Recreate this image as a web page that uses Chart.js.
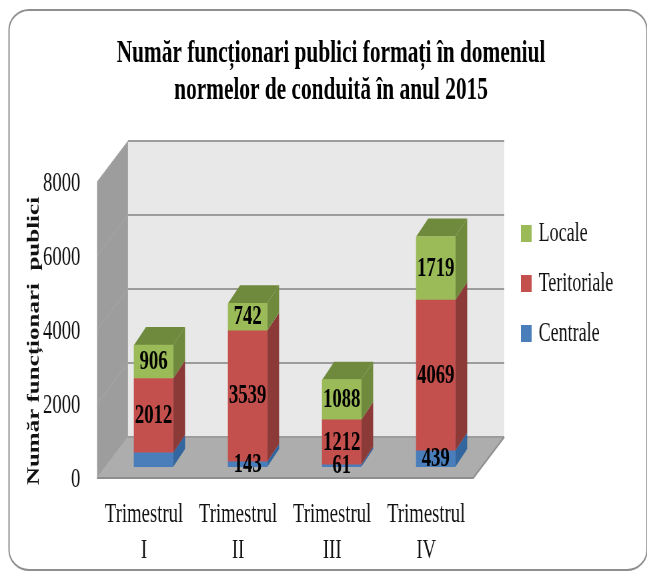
<!DOCTYPE html>
<html><head><meta charset="utf-8">
<style>
html,body{margin:0;padding:0;background:#fff;overflow:hidden}
canvas{display:block;width:647px!important;height:573px!important;filter:blur(.4px)}
</style>
<script src="https://cdn.jsdelivr.net/npm/chart.js@4"></script>
</head><body>
<canvas id="c" width="970" height="573"></canvas>
<script>
const categories=[['Trimestrul','I'],['Trimestrul','II'],['Trimestrul','III'],['Trimestrul','IV']];
const centrale=[380,143,61,439];
const teritoriale=[2012,3539,1212,4069];
const locale=[906,742,1088,1719];
const hiddenLabels=[[0,0]]; // the reference prints no label on this segment
const titleLines=['Număr funcționari publici formați în domeniul','normelor de conduită în anul 2015'];
const yTitle='Număr funcționari  publici';

const SX=970/647;
const WALL={dx:31*SX,dy:-41};
const BAR={dx:9.5*SX,dy:-11,depthX:12*SX,depthY:-18};
const serif='"Liberation Serif","Times New Roman",serif';
const sides=['#33659f','#8b3a38','#6f8a3c'];

function poly(ctx,pts,fill){ctx.beginPath();pts.forEach((p,i)=>i?ctx.lineTo(p[0],p[1]):ctx.moveTo(p[0],p[1]));ctx.closePath();ctx.fillStyle=fill;ctx.fill();}

const scene={
 id:'scene',
 afterLayout(chart){
  const t=chart.titleBlock;t.left=0;t.right=331*SX*2;
  const l=chart.legend;const w=l.width,h=l.height;
  l.left=761;l.right=l.left+w;l.top=197;l.bottom=l.top+h;
  const y=chart.scales.y;
  if(!y._wrapped){y._wrapped=true;const o=y.drawTitle.bind(y);
   y.drawTitle=function(){chart.ctx.save();chart.ctx.translate(0,11);o();chart.ctx.restore();};}
 },
 beforeDraw(chart){
  const {ctx,chartArea:a,scales:{y}}=chart;
  const b0=y.getPixelForValue(0),t0=y.getPixelForValue(8000);
  const d=WALL;
  ctx.save();
  // frame
  ctx.save();ctx.scale(SX,1);ctx.beginPath();ctx.roundRect(9,10,638,560,20);ctx.restore();
  ctx.strokeStyle='#8f8f8f';ctx.lineWidth=2;ctx.stroke();
  // walls
  poly(ctx,[[a.left+d.dx,b0+d.dy],[a.right+d.dx,b0+d.dy],[a.right+d.dx,t0+d.dy],[a.left+d.dx,t0+d.dy]],'#e8e8e8');
  poly(ctx,[[a.left,b0],[a.left+d.dx,b0+d.dy],[a.left+d.dx,t0+d.dy],[a.left,t0]],'#9d9d9d');
  poly(ctx,[[a.left,b0],[a.right,b0],[a.right+d.dx,b0+d.dy],[a.left+d.dx,b0+d.dy]],'#adadad');
  // gridlines
  y.ticks.forEach(tk=>{
   const p=y.getPixelForValue(tk.value);
   ctx.lineWidth=2;ctx.strokeStyle='#9c9c9c';
   ctx.beginPath();ctx.moveTo(a.left+d.dx,p+d.dy);ctx.lineTo(a.right+d.dx,p+d.dy);ctx.stroke();
   ctx.lineWidth=1;ctx.strokeStyle='#a9a9a9';
   ctx.beginPath();ctx.moveTo(a.left,p);ctx.lineTo(a.left+d.dx,p+d.dy);ctx.stroke();
  });
  ctx.lineWidth=2;ctx.strokeStyle='#8e8e8e';
  ctx.beginPath();ctx.moveTo(a.left,b0);ctx.lineTo(a.right,b0);ctx.lineTo(a.right+d.dx,b0+d.dy);ctx.stroke();
  ctx.restore();
 },
 beforeDatasetsDraw(chart){
  const ctx=chart.ctx;
  ctx.save();ctx.translate(BAR.dx,BAR.dy);
  chart.data.datasets.forEach((ds,i)=>{
   chart.getDatasetMeta(i).data.forEach(el=>{
    const p=el.getProps(['x','y','base','width'],true);
    const r=p.x+p.width/2,l=p.x-p.width/2;
    poly(ctx,[[r,p.base],[r+BAR.depthX,p.base+BAR.depthY],[r+BAR.depthX,p.y+BAR.depthY],[r,p.y]],sides[i]);
    if(i===chart.data.datasets.length-1)
     poly(ctx,[[l,p.y],[r,p.y],[r+BAR.depthX,p.y+BAR.depthY],[l+BAR.depthX,p.y+BAR.depthY]],sides[i]);
   });
  });
 },
 afterDatasetsDraw(chart){
  const ctx=chart.ctx;
  ctx.font='bold 28px '+serif;ctx.textAlign='center';ctx.textBaseline='middle';ctx.fillStyle='#000';
  chart.data.datasets.forEach((ds,i)=>{
   chart.getDatasetMeta(i).data.forEach((el,j)=>{
    if(hiddenLabels.some(h=>h[0]===i&&h[1]===j))return;
    const p=el.getProps(['x','y','base'],true);
    ctx.fillText(String(ds.data[j]),p.x,(p.y+p.base)/2);
   });
  });
  ctx.restore();
 }
};

new Chart(document.getElementById('c'),{
 type:'bar',
 data:{labels:categories,datasets:[
  {label:'Centrale',data:centrale,backgroundColor:'#4a7ebb',borderWidth:0},
  {label:'Teritoriale',data:teritoriale,backgroundColor:'#c4504e',borderWidth:0},
  {label:'Locale',data:locale,backgroundColor:'#9bbb59',borderWidth:0}
 ]},
 plugins:[scene],
 options:{
  responsive:false,animation:false,devicePixelRatio:1,
  layout:{padding:{left:0,top:0,right:260.5,bottom:0}},
  datasets:{bar:{barThickness:39*SX}},
  plugins:{
   tooltip:{enabled:false},
   title:{display:true,text:titleLines,color:'#000',
    font:{family:serif,size:32,weight:'bold',lineHeight:37/32},
    padding:{top:35.5,bottom:72.5}},
   legend:{position:'chartArea',align:'start',reverse:true,
    labels:{color:'#111',font:{family:serif,size:27},boxWidth:10,boxHeight:11,padding:23,
     generateLabels(chart){
      return chart.data.datasets.map((ds,i)=>({text:ds.label,fillStyle:ds.backgroundColor,strokeStyle:ds.backgroundColor,lineWidth:6,datasetIndex:i,hidden:false,fontColor:'#111'}));
     }}}
  },
  scales:{
   x:{stacked:true,
    grid:{display:false},border:{display:false},
    afterFit(s){s.height=95;},
    ticks:{color:'#111',font:{family:serif,size:28,lineHeight:36/28},padding:11,maxRotation:0,autoSkip:false}},
   y:{stacked:true,min:0,max:8000,
    grid:{display:false},border:{display:false},
    afterFit(s){s.width=97*SX;},
    title:{display:true,text:yTitle,color:'#111',font:{family:serif,size:25,weight:'bold'},padding:{top:37,bottom:0}},
    ticks:{stepSize:2000,color:'#111',font:{family:serif,size:28},padding:17,labelOffset:2,
     callback(v){return String(v);}}}
  }
 }
});
</script>
</body></html>
